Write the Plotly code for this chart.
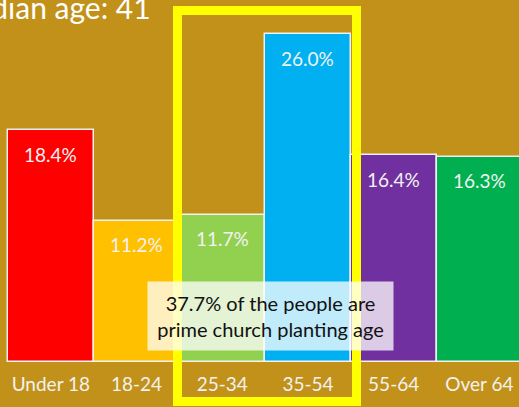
import plotly.graph_objects as go

categories = ["Under 18", "18-24", "25-34", "35-54", "55-64", "Over 64"]
values = [18.4, 11.2, 11.7, 26.0, 16.4, 16.3]
colors = ["#FF0000", "#FFC000", "#92D050", "#00B0F0", "#7030A0", "#00B050"]
labels = [f"{v:.1f}%" for v in values]

W, H = 519, 407
BG = "#C1911A"
FONT = "Lato"

fig = go.Figure()
fig.add_trace(go.Bar(
    x=categories, y=values,
    marker=dict(color=colors, line=dict(color="#F2F2F2", width=1.5)),
    hoverinfo="skip",
))

for c, v, t in zip(categories, values, labels):
    fig.add_annotation(x=c, y=v, text=t, showarrow=False, yanchor="middle",
                       yshift=-24, font=dict(family=FONT, size=19, color="#F2F2F2"))

# highlight rectangle (paper coords)
fig.add_shape(type="rect", xref="paper", yref="paper",
              x0=177.5 / W, x1=356.5 / W, y0=-(401.5 - 362) / 362, y1=(362 - 10.5) / 362,
              line=dict(color="#FFFF00", width=9), layer="above")

fig.add_annotation(xref="paper", yref="paper", x=270.5 / W, y=(362 - 316) / 362,
                   text="37.7% of the people are<br>prime church planting age",
                   showarrow=False, xanchor="center", yanchor="middle",
                   font=dict(family=FONT, size=20, color="#111111"),
                   bgcolor="rgba(255,255,255,0.75)", width=245, height=68, borderpad=0)

fig.add_annotation(xref="paper", yref="paper", x=153 / W, y=(362 - 7) / 362,
                   text="Median age: 41", showarrow=False, xanchor="right", yanchor="middle",
                   font=dict(family=FONT, size=30, color="#FFFFFF"))

left = -0.5 - 8 / 85.7
fig.update_layout(
    width=W, height=H,
    margin=dict(l=0, r=0, t=0, b=45),
    paper_bgcolor=BG, plot_bgcolor=BG,
    bargap=0, showlegend=False,
    xaxis=dict(range=[left, left + W / 85.7], showgrid=False, zeroline=False,
               showline=False, ticks="", tickfont=dict(family=FONT, size=19, color="#F2F2F2"),
               ticklabelstandoff=9),
    yaxis=dict(range=[0, 362 / 12.6], visible=False),
)
fig.write_html("out.html", config={"displayModeBar": False},
               post_script="document.body.style.margin='0';document.body.style.overflow='hidden';")
